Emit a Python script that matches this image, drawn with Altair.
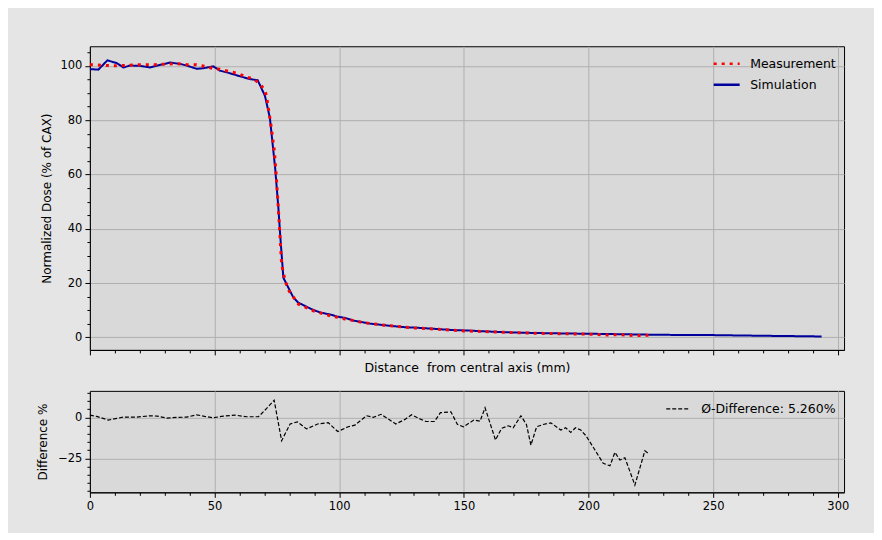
import altair as alt
import pandas as pd

# ---- data ----
sim_x = [0, 3.4, 7.0, 10.8, 13.4, 16.1, 20.0, 24.1, 28.0, 32.1, 36.2, 38.8, 42.8, 45.5, 49.5,
         52.2, 56.0, 60.0, 64.2, 67.3, 70.2, 72.2, 74.3, 75.6, 76.3, 77.6, 78.9, 81.6, 83.6,
         88.9, 92.3, 97.0, 99.0, 102.3, 105.7, 112.3, 119.0, 125.7, 132.4, 139.1, 145.7,
         152.4, 159.1, 169.8, 180.0, 190.0, 200.0, 212.0, 225.0, 237.0, 250.0, 262.0, 275.0,
         285.0, 293.5]
sim_y = [98.8, 98.6, 102.0, 101.0, 99.4, 100.1, 100.0, 99.4, 100.3, 101.2, 100.7, 100.1, 98.9,
         99.1, 99.8, 98.2, 97.3, 96.2, 95.1, 94.7, 89.0, 80.8, 62.4, 47.7, 38.0, 22.0, 19.6,
         14.7, 12.8, 10.4, 9.2, 8.3, 7.7, 7.2, 6.2, 5.1, 4.4, 3.8, 3.5, 3.1, 2.7, 2.5, 2.2,
         1.8, 1.6, 1.45, 1.35, 1.2, 1.0, 0.9, 0.85, 0.7, 0.55, 0.45, 0.35]

meas_x = [0, 5, 10, 15, 20, 26, 30, 35, 39, 42.8, 46, 49.5, 52.2, 55.8, 58.9, 62.2, 65.6,
          68.2, 70.2, 70.9, 72.6, 74.0, 74.9, 75.9, 76.9, 78.3, 79.9, 83.6, 89.6, 96.3,
          102.3, 110, 120, 130, 140, 150, 160, 170, 180, 190, 200, 205.9, 208.6, 210.6,
          214.6, 218.6, 222.6, 224.5]
meas_y = [100.4, 100.2, 100.0, 100.2, 100.4, 100.4, 100.6, 100.8, 100.4, 100.4, 99.8, 99.0,
          98.7, 97.9, 97.3, 96.1, 95.1, 93.4, 90.9, 88.5, 78.3, 68.5, 57.5, 42.8, 26.9, 20.8,
          17.1, 12.3, 9.8, 8.0, 6.8, 5.4, 4.3, 3.5, 3.0, 2.4, 2.1, 1.75, 1.52, 1.35, 1.2,
          0.94, 0.92, 1.0, 0.93, 0.63, 0.84, 0.82]

diff_x = [0, 2.7, 7.4, 10.8, 13.4, 18.8, 24.1, 27.0, 30.8, 34.8, 38.8, 42.8, 46.0, 49.5,
          53.5, 58.2, 62.9, 67.6, 70.9, 73.9, 76.9, 80.3, 83.2, 86.9, 91.6, 95.6, 99.4,
          103.6, 106.3, 111.0, 113.7, 116.8, 122.7, 126.4, 129.0, 132.0, 134.8, 138.2,
          140.6, 144.8, 147.4, 149.8, 154.0, 156.5, 158.5, 162.7, 165.1, 167.8, 169.8,
          172.9, 175.1, 176.9, 179.2, 181.8, 184.9, 188.9, 190.8, 192.9, 194.8, 196.9,
          199.0, 202.6, 205.9, 208.6, 210.6, 212.6, 214.6, 218.6, 222.6, 224.3]
diff_y = [1.4, 0.6, -1.6, -0.6, 0.2, 0.2, 1.0, 0.8, -0.4, 0.0, 0.2, 1.6, 0.6, -0.2, 0.8, 1.4,
          0.4, 0.4, 5.5, 10.5, -14.2, -4.0, -2.7, -7.0, -3.9, -3.2, -8.6, -5.7, -4.7, 1.0,
          0.0, 1.9, -4.0, -1.2, 1.6, -0.6, -2.5, -2.5, 2.9, 3.4, -4.2, -5.7, -1.6, -2.3, 5.9,
          -13.8, -6.7, -5.1, -6.3, 1.0, -4.3, -16.9, -5.7, -4.3, -3.3, -7.7, -6.3, -9.1,
          -6.3, -7.7, -11.2, -19.9, -28.0, -29.5, -21.3, -26.0, -24.6, -41.3, -20.4, -22.4]

series_names = ["Measurement", "Simulation"]
series_colors = ["#ff0000", "#00009c"]
diff_label = "Ø-Difference: 5.260%"
x_ticks = list(range(0, 301, 10))
top_y_ticks = list(range(0, 106, 5))
bot_y_ticks = list(range(-45, 16, 5))

FONT = "DejaVu Sans"
GRID = "#b0b0b0"

sim_df = pd.DataFrame({"x": sim_x, "y": sim_y, "series": "Simulation"})
meas_df = pd.DataFrame({"x": meas_x, "y": meas_y, "series": "Measurement"})
diff_df = pd.DataFrame({"x": diff_x, "y": diff_y, "series": diff_label})


def cond(test, a, b):
    return {"condition": {"test": test, "value": a}, "value": b}


x_scale = alt.Scale(domain=[0, 302.5], nice=False, zero=False)

top_x_axis = alt.Axis(values=x_ticks, labels=False,
                      title="Distance\u00a0 from central axis (mm)",
                      tickSize=cond("datum.value % 50 === 0", 5, 3),
                      gridOpacity=cond("datum.value % 50 === 0", 1, 0),
                      titlePadding=6, titleFontSize=12.5)
top_y_axis = alt.Axis(values=top_y_ticks,
                      labelExpr="datum.value % 20 === 0 ? datum.label : ''",
                      tickSize=cond("datum.value % 20 === 0", 5, 3),
                      gridOpacity=cond("datum.value % 20 === 0", 1, 0),
                      title="Normalized Dose (% of CAX)", titlePadding=7)

color_scale = alt.Scale(domain=series_names, range=series_colors)
dash_scale = alt.Scale(domain=series_names, range=[[3, 5], [1, 0]])
top_legend = alt.Legend(orient="none", legendX=623, legendY=3, title=None,
                        symbolType="stroke", symbolSize=676, symbolStrokeWidth=2.5,
                        labelFontSize=12.5, labelOffset=9, rowPadding=-7)

base_top = alt.Chart().encode(
    x=alt.X("x:Q", scale=x_scale, axis=top_x_axis),
    y=alt.Y("y:Q", scale=alt.Scale(domain=[-4.6, 107.2], nice=False, zero=False),
            axis=top_y_axis),
    color=alt.Color("series:N", scale=color_scale, legend=top_legend),
    strokeDash=alt.StrokeDash("series:N", scale=dash_scale, legend=top_legend),
)
sim_line = base_top.mark_line(strokeWidth=2).properties(data=sim_df)
meas_line = base_top.mark_line(strokeWidth=3, strokeCap="butt").properties(data=meas_df)
top = alt.layer(sim_line, meas_line).properties(width=755, height=304)

bot_legend = alt.Legend(orient="none", legendX=576, legendY=5, title=None,
                        symbolType="stroke", symbolSize=576, symbolStrokeWidth=1.2,
                        labelFontSize=12.5, labelOffset=10)
bottom = alt.Chart(diff_df).mark_line(strokeWidth=1.2).encode(
    x=alt.X("x:Q", scale=x_scale, title=None,
            axis=alt.Axis(values=x_ticks,
                          labelExpr="datum.value % 50 === 0 ? datum.label : ''",
                          labelOverlap=False, labelFlush=False,
                          tickSize=cond("datum.value % 50 === 0", 5, 3),
                          gridOpacity=cond("datum.value % 50 === 0", 1, 0))),
    y=alt.Y("y:Q", scale=alt.Scale(domain=[-45.7, 16.2], nice=False, zero=False),
            axis=alt.Axis(values=bot_y_ticks,
                          labelExpr="datum.value % 25 === 0 ? datum.label : ''",
                          tickSize=cond("datum.value % 25 === 0", 5, 3),
                          gridOpacity=cond("datum.value % 25 === 0", 1, 0),
                          title="Difference %", titlePadding=8)),
    color=alt.Color("series:N", scale=alt.Scale(domain=[diff_label], range=["#000000"]),
                    legend=bot_legend),
    strokeDash=alt.StrokeDash("series:N",
                              scale=alt.Scale(domain=[diff_label], range=[[4, 2]]),
                              legend=bot_legend),
).properties(width=755, height=101.6)

chart = alt.vconcat(top, bottom, spacing=15).resolve_scale(
    color="independent", strokeDash="independent"
).properties(
    background="#e5e5e5",
    padding={"left": 28, "top": 37, "right": 24, "bottom": 20},
).configure_view(
    fill="#d9d9d9", stroke="#000000", strokeWidth=1
).configure_axis(
    gridColor=GRID, gridWidth=1, domainColor="#000000", domainWidth=1,
    tickColor="#000000", tickWidth=1, labelColor="#000000", titleColor="#000000",
    labelFont=FONT, titleFont=FONT, labelFontSize=11.5, titleFontSize=12,
    titleFontWeight="normal", labelPadding=3
).configure_legend(
    labelFont=FONT, labelColor="#000000", padding=0
)

chart.save("out.html", embed_options={"renderer": "svg", "actions": False})
